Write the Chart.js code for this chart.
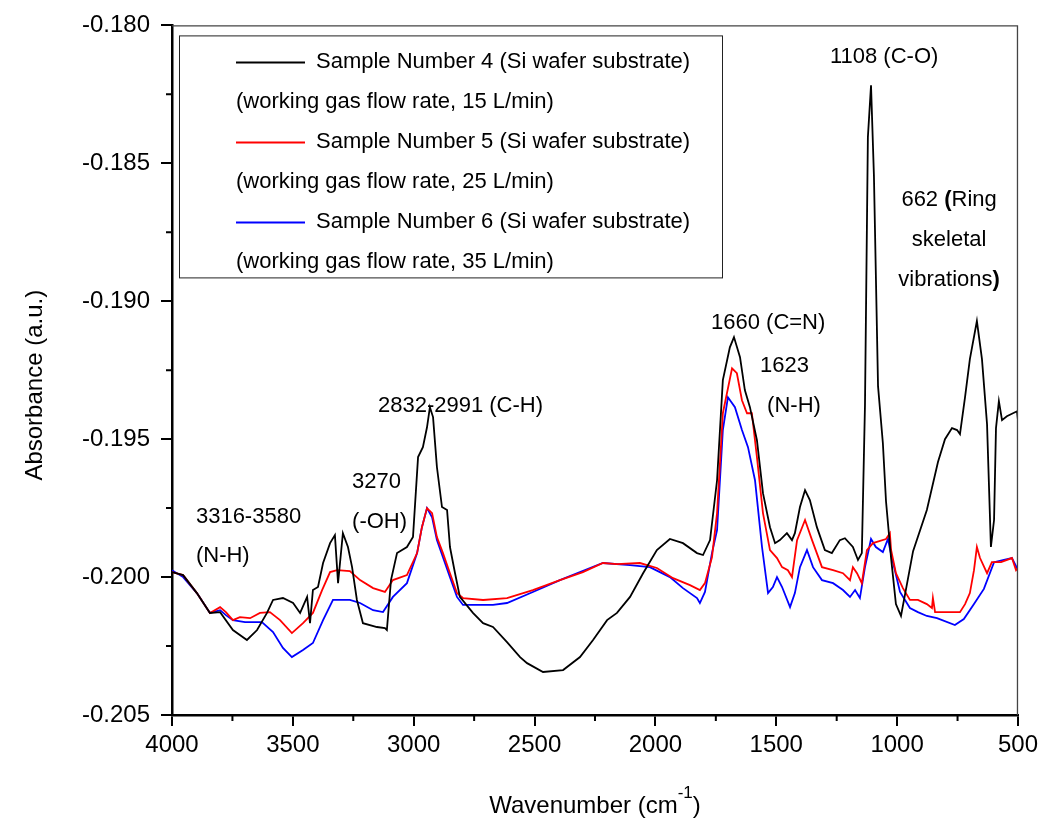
<!DOCTYPE html>
<html>
<head>
<meta charset="utf-8">
<title>FTIR spectra</title>
<script src="https://cdn.jsdelivr.net/npm/chart.js@4.4.1/dist/chart.umd.min.js"></script>
<style>
  html, body { margin: 0; padding: 0; background: #fff; }
  #wrap { width: 1043px; height: 825px; }
</style>
</head>
<body>
<div id="wrap"><canvas id="ftirChart" width="1043" height="825"></canvas></div>
<script>
// spectra (wavenumber cm-1, absorbance a.u.)
const waveS4 = [4000, 3954, 3897, 3843, 3801, 3748, 3690, 3648, 3607, 3582, 3541, 3499, 3470, 3441, 3429, 3417, 3396, 3375, 3346, 3326, 3313, 3293, 3272, 3255, 3235, 3210, 3152, 3119, 3111, 3094, 3069, 3028, 3003, 2982, 2962, 2945, 2933, 2920, 2904, 2883, 2862, 2850, 2829, 2809, 2755, 2713, 2672, 2614, 2560, 2531, 2465, 2382, 2312, 2258, 2200, 2159, 2105, 2051, 1994, 1940, 1886, 1828, 1803, 1774, 1745, 1721, 1692, 1675, 1650, 1630, 1609, 1580, 1555, 1526, 1505, 1485, 1456, 1435, 1423, 1402, 1381, 1361, 1332, 1299, 1270, 1237, 1216, 1183, 1162, 1146, 1133, 1121, 1108, 1096, 1079, 1059, 1046, 1025, 1005, 984, 963, 934, 877, 831, 802, 773, 752, 740, 719, 699, 670, 649, 628, 612, 599, 591, 579, 566, 546, 504, 500];
const absS4 = [-0.19982, -0.19993, -0.20058, -0.20130, -0.20127, -0.20192, -0.20228, -0.20192, -0.20130, -0.20083, -0.20076, -0.20094, -0.20130, -0.20072, -0.20167, -0.20047, -0.20036, -0.19949, -0.19877, -0.19848, -0.20022, -0.19841, -0.19891, -0.19964, -0.20083, -0.20167, -0.20181, -0.20185, -0.20192, -0.20011, -0.19913, -0.19891, -0.19855, -0.19565, -0.19529, -0.19457, -0.19384, -0.19420, -0.19601, -0.19746, -0.19757, -0.19891, -0.19986, -0.20072, -0.20130, -0.20167, -0.20181, -0.20236, -0.20290, -0.20312, -0.20344, -0.20337, -0.20290, -0.20228, -0.20156, -0.20130, -0.20072, -0.19986, -0.19902, -0.19862, -0.19877, -0.19913, -0.19920, -0.19866, -0.19649, -0.19286, -0.19167, -0.19130, -0.19203, -0.19322, -0.19384, -0.19504, -0.19696, -0.19819, -0.19877, -0.19866, -0.19841, -0.19866, -0.19841, -0.19746, -0.19685, -0.19721, -0.19819, -0.19902, -0.19913, -0.19866, -0.19859, -0.19891, -0.19938, -0.19913, -0.19377, -0.18406, -0.18217, -0.18543, -0.19308, -0.19514, -0.19725, -0.19931, -0.20098, -0.20141, -0.20043, -0.19906, -0.19757, -0.19583, -0.19500, -0.19460, -0.19467, -0.19482, -0.19348, -0.19210, -0.19072, -0.19210, -0.19446, -0.19891, -0.19793, -0.19460, -0.19362, -0.19431, -0.19417, -0.19399, -0.19431];

const waveS5 = [4000, 3954, 3897, 3843, 3801, 3777, 3748, 3719, 3677, 3636, 3595, 3553, 3504, 3458, 3417, 3379, 3346, 3317, 3264, 3222, 3168, 3119, 3086, 3028, 2986, 2966, 2945, 2924, 2904, 2879, 2850, 2821, 2796, 2713, 2614, 2507, 2395, 2300, 2217, 2159, 2064, 1994, 1927, 1857, 1816, 1795, 1766, 1745, 1721, 1683, 1663, 1642, 1621, 1601, 1580, 1555, 1526, 1497, 1476, 1452, 1435, 1414, 1381, 1352, 1311, 1265, 1224, 1195, 1183, 1166, 1146, 1125, 1100, 1046, 1030, 1025, 1005, 976, 947, 914, 877, 856, 852, 843, 740, 719, 699, 682, 670, 657, 628, 608, 570, 525, 508, 500];
const absS5 = [-0.19982, -0.19993, -0.20058, -0.20130, -0.20109, -0.20127, -0.20156, -0.20145, -0.20149, -0.20130, -0.20127, -0.20156, -0.20203, -0.20167, -0.20130, -0.20047, -0.19982, -0.19975, -0.19978, -0.20011, -0.20040, -0.20054, -0.20011, -0.19993, -0.19913, -0.19819, -0.19750, -0.19768, -0.19855, -0.19913, -0.19986, -0.20058, -0.20076, -0.20083, -0.20076, -0.20047, -0.20011, -0.19982, -0.19949, -0.19953, -0.19949, -0.19967, -0.20004, -0.20029, -0.20047, -0.20022, -0.19928, -0.19768, -0.19406, -0.19243, -0.19261, -0.19359, -0.19406, -0.19406, -0.19565, -0.19768, -0.19902, -0.19931, -0.19964, -0.19975, -0.20000, -0.19866, -0.19793, -0.19866, -0.19964, -0.19975, -0.19986, -0.20011, -0.19964, -0.19986, -0.20022, -0.19902, -0.19877, -0.19862, -0.19841, -0.19902, -0.19986, -0.20040, -0.20083, -0.20083, -0.20098, -0.20112, -0.20076, -0.20127, -0.20127, -0.20098, -0.20058, -0.19975, -0.19891, -0.19931, -0.19986, -0.19946, -0.19946, -0.19931, -0.19975, -0.19967];

const waveS6 = [4000, 3954, 3897, 3843, 3801, 3777, 3748, 3698, 3628, 3582, 3541, 3504, 3458, 3417, 3375, 3334, 3264, 3222, 3168, 3127, 3086, 3028, 2986, 2966, 2945, 2924, 2904, 2879, 2850, 2821, 2796, 2672, 2614, 2507, 2395, 2325, 2217, 2105, 2023, 1940, 1886, 1828, 1816, 1795, 1766, 1745, 1721, 1700, 1671, 1642, 1617, 1588, 1559, 1534, 1514, 1497, 1476, 1443, 1423, 1402, 1373, 1348, 1311, 1265, 1224, 1195, 1174, 1154, 1133, 1108, 1088, 1059, 1038, 1025, 988, 947, 914, 877, 835, 761, 724, 682, 641, 599, 558, 525, 508, 500];
const absS6 = [-0.19975, -0.20000, -0.20058, -0.20130, -0.20120, -0.20138, -0.20156, -0.20163, -0.20163, -0.20199, -0.20257, -0.20290, -0.20264, -0.20239, -0.20156, -0.20083, -0.20083, -0.20094, -0.20120, -0.20127, -0.20072, -0.20022, -0.19913, -0.19819, -0.19750, -0.19783, -0.19866, -0.19928, -0.20000, -0.20072, -0.20101, -0.20101, -0.20094, -0.20054, -0.20011, -0.19986, -0.19949, -0.19957, -0.19964, -0.20000, -0.20040, -0.20076, -0.20094, -0.20054, -0.19913, -0.19830, -0.19467, -0.19348, -0.19384, -0.19467, -0.19529, -0.19649, -0.19891, -0.20058, -0.20036, -0.20000, -0.20036, -0.20109, -0.20058, -0.19964, -0.19902, -0.19964, -0.20011, -0.20022, -0.20047, -0.20072, -0.20047, -0.20076, -0.19964, -0.19862, -0.19891, -0.19909, -0.19862, -0.19917, -0.20054, -0.20112, -0.20127, -0.20141, -0.20149, -0.20174, -0.20152, -0.20098, -0.20043, -0.19946, -0.19938, -0.19931, -0.19960, -0.19975];

const sampleNames = ['Sample Number 4 (Si wafer substrate)', 'Sample Number 5 (Si wafer substrate)', 'Sample Number 6 (Si wafer substrate)'];
const flowNotes = ['(working gas flow rate, 15 L/min)', '(working gas flow rate, 25 L/min)', '(working gas flow rate, 35 L/min)'];
const lineColors = ['#000000', '#ff0000', '#0000ff'];

// band assignments, anchored at (wavenumber, absorbance)
const peakNotes = [
    { parts: [['3316-3580', false]], wn: 3901, ab: -0.19783, align: 'left' },
    { parts: [['(N-H)', false]], wn: 3901, ab: -0.19924, align: 'left' },
    { parts: [['3270', false]], wn: 3255, ab: -0.19656, align: 'left' },
    { parts: [['(-OH)', false]], wn: 3255, ab: -0.19801, align: 'left' },
    { parts: [['2832-2991 (C-H)', false]], wn: 3148, ab: -0.19380, align: 'left' },
    { parts: [['1660 (C=N)', false]], wn: 1770, ab: -0.19080, align: 'left' },
    { parts: [['1623', false]], wn: 1567, ab: -0.19236, align: 'left' },
    { parts: [['(N-H)', false]], wn: 1538, ab: -0.19380, align: 'left' },
    { parts: [['1108 (C-O)', false]], wn: 1278, ab: -0.18116, align: 'left' },
    { parts: [['662 ', false], ['(', true], ['Ring', false]], wn: 785, ab: -0.18634, align: 'center' },
    { parts: [['skeletal', false]], wn: 785, ab: -0.18779, align: 'center' },
    { parts: [['vibrations', false], [')', true]], wn: 785, ab: -0.18924, align: 'center' }
];

const FONT = "'Liberation Sans', Arial, Helvetica, sans-serif";
Chart.defaults.font.family = FONT;
Chart.defaults.color = '#000';

function toPoints(xs, ys) {
    return xs.map((x, i) => ({ x: x, y: ys[i] }));
}

const seriesPoints = [toPoints(waveS4, absS4), toPoints(waveS5, absS5), toPoints(waveS6, absS6)];

// minor ticks, frame, legend box and the band labels
const decorPlugin = {
    id: 'decor',
    afterDraw(chart) {
        const ctx = chart.ctx;
        const a = chart.chartArea;
        const xs = chart.scales.x;
        const ys = chart.scales.y;
        ctx.save();

        // top / right frame
        ctx.strokeStyle = '#444';
        ctx.lineWidth = 1.3;
        ctx.beginPath();
        ctx.moveTo(a.left, a.top + 0.5);
        ctx.lineTo(a.right - 0.5, a.top + 0.5);
        ctx.lineTo(a.right - 0.5, a.bottom);
        ctx.stroke();

        // minor ticks
        ctx.strokeStyle = '#000';
        ctx.lineWidth = 2;
        ctx.beginPath();
        for (let v = 750; v < 4000; v += 500) {
            const px = xs.getPixelForValue(v);
            ctx.moveTo(px, a.bottom);
            ctx.lineTo(px, a.bottom + 6);
        }
        for (let k = 0; k < 5; k++) {
            const py = ys.getPixelForValue(-0.2025 + k * 0.005);
            ctx.moveTo(a.left, py);
            ctx.lineTo(a.left - 6, py);
        }
        ctx.stroke();

        // legend
        const bx = a.left + 7, by = a.top + 10, bw = 543, bh = 242;
        ctx.fillStyle = '#fff';
        ctx.fillRect(bx, by, bw, bh);
        ctx.strokeStyle = '#222';
        ctx.lineWidth = 1;
        ctx.strokeRect(bx + 0.5, by + 0.5, bw, bh);
        ctx.font = '22px ' + FONT;
        ctx.textBaseline = 'middle';
        ctx.textAlign = 'left';
        sampleNames.forEach((name, i) => {
            const y1 = by + 27 + i * 80;
            ctx.strokeStyle = lineColors[i];
            ctx.lineWidth = 2;
            ctx.beginPath();
            ctx.moveTo(bx + 57, y1);
            ctx.lineTo(bx + 126, y1);
            ctx.stroke();
            ctx.fillStyle = '#000';
            ctx.fillText(name, bx + 137, y1);
            ctx.fillText(flowNotes[i], bx + 57, y1 + 40);
        });

        // band labels
        peakNotes.forEach(n => {
            const px = xs.getPixelForValue(n.wn);
            const py = ys.getPixelForValue(n.ab);
            let total = 0;
            n.parts.forEach(p => {
                ctx.font = (p[1] ? 'bold ' : '') + '22px ' + FONT;
                total += ctx.measureText(p[0]).width;
            });
            let x = n.align === 'center' ? px - total / 2 : px;
            n.parts.forEach(p => {
                ctx.font = (p[1] ? 'bold ' : '') + '22px ' + FONT;
                ctx.fillText(p[0], x, py);
                x += ctx.measureText(p[0]).width;
            });
        });

        // axis titles
        ctx.font = '24px ' + FONT;
        ctx.save();
        ctx.translate(35, (a.top + a.bottom) / 2 + 15);
        ctx.rotate(-Math.PI / 2);
        ctx.textAlign = 'center';
        ctx.fillText('Absorbance (a.u.)', 0, 0);
        ctx.restore();

        const main = 'Wavenumber (cm';
        ctx.font = '24px ' + FONT;
        const w1 = ctx.measureText(main).width;
        ctx.font = '17px ' + FONT;
        const w2 = ctx.measureText('-1').width;
        ctx.font = '24px ' + FONT;
        const w3 = ctx.measureText(')').width;
        let tx = 595 - (w1 + w2 + w3) / 2;
        const ty = 806;
        ctx.textAlign = 'left';
        ctx.fillText(main, tx, ty);
        tx += w1;
        ctx.font = '17px ' + FONT;
        ctx.fillText('-1', tx, ty - 13);
        tx += w2;
        ctx.font = '24px ' + FONT;
        ctx.fillText(')', tx, ty);

        ctx.restore();
    }
};

const chart = new Chart(document.getElementById('ftirChart'), {
    type: 'line',
    data: {
        datasets: seriesPoints.map((pts, i) => ({
            label: sampleNames[i],
            data: pts,
            borderColor: lineColors[i],
            borderWidth: 1.8,
            pointRadius: 0,
            tension: 0,
            fill: false
        }))
    },
    options: {
        responsive: false,
        animation: false,
        layout: { padding: { top: 25, right: 25, left: 0, bottom: 0 } },
        plugins: {
            legend: { display: false },
            tooltip: { enabled: false }
        },
        scales: {
            x: {
                type: 'linear',
                reverse: true,
                min: 500,
                max: 4000,
                ticks: {
                    stepSize: 500,
                    maxRotation: 0,
                    padding: 5,
                    color: '#000',
                    font: { size: 24 },
                    callback: (v) => String(v)
                },
                grid: { drawOnChartArea: false, tickLength: 11, color: '#000', lineWidth: 2 },
                border: { display: true, color: '#000', width: 2.5 },
                afterFit: (scale) => { scale.height = 110; }
            },
            y: {
                min: -0.205,
                max: -0.180,
                ticks: {
                    stepSize: 0.005,
                    padding: 11,
                    color: '#000',
                    font: { size: 24 },
                    callback: (v) => v.toFixed(3)
                },
                grid: { drawOnChartArea: false, tickLength: 11, color: '#000', lineWidth: 2 },
                border: { display: true, color: '#000', width: 2.5 },
                afterFit: (scale) => { scale.width = 172; }
            }
        }
    },
    plugins: [decorPlugin]
});
</script>
</body>
</html>
